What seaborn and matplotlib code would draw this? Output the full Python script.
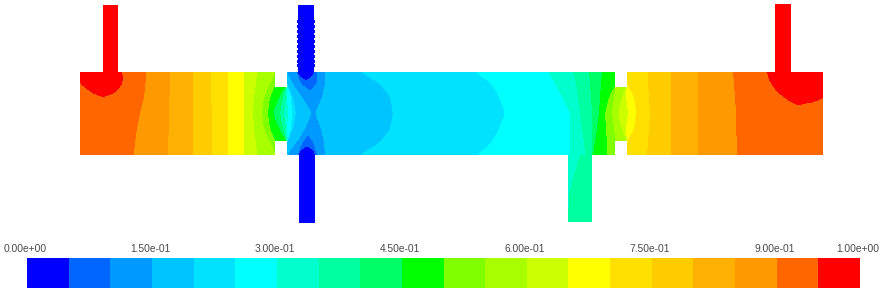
import numpy as np
import matplotlib
matplotlib.use("Agg")
import matplotlib.pyplot as plt
from matplotlib.colors import ListedColormap
from matplotlib.transforms import ScaledTranslation
import seaborn as sns

# ---------- data ----------
LEVEL_COLORS = ["#0000ff", "#0066ff", "#0099ff", "#00c4ff", "#00e2ff",
                "#00ffff", "#00ffcc", "#00ffa0", "#00ff66", "#00ff00",
                "#80ff00", "#a8ff00", "#ccff00", "#ffff00", "#ffe000",
                "#ffcc00", "#ffb000", "#ff9900", "#ff6600", "#ff0000"]
TICK_BINS = [0, 3, 6, 9, 12, 15, 18, 20]
TICK_LABELS = ["0.00e+00", "1.50e-01", "3.00e-01", "4.50e-01",
               "6.00e-01", "7.50e-01", "9.00e-01", "1.00e+00"]

# contour band edges along the duct (x) at these heights (y)
EDGE_Y = [72, 84, 97, 113, 129, 142, 155]
BASE_LEVEL = 18
EDGE_LEVELS = [17, 16, 15, 14, 13, 12, 11, 10, 9, 8, 7, 6, 5, 4, 3, 2, 3, 4, 5,
               6, 7, 8, 9, 10, 11, 12, 13, 14, 15, 16, 17, 18]
EDGES = [
    [146, 145.5, 144, 140, 137, 135, 134],
    [170, 170, 169.5, 169, 169, 168, 168],
    [193, 193, 193, 193, 193, 193, 193],
    [211, 211, 211, 212, 212, 212, 212],
    [228, 228, 228, 228, 228, 228, 228],
    [244, 244, 244, 244, 244, 244, 244],
    [257, 256, 254, 253, 254, 256, 257],
    [276, 270, 264, 262, 264, 270, 276],
    [280, 276, 270, 268, 270, 276, 280],
    [287, 287, 279, 273, 279, 287, 287],
    [287, 287, 283, 280, 283, 287, 287],
    [287, 287, 286, 284, 286, 287, 287],
    [287, 287, 287, 288, 287, 287, 287],
    [287, 287, 291, 292, 291, 287, 287],
    [287, 287, 293, 296, 293, 287, 287],
    [287, 293, 302, 312, 305, 297, 287],
    [325, 325, 322, 315, 321, 324, 325],
    [360, 380, 390, 393, 390, 380, 360],
    [475, 492, 499, 505, 499, 492, 477],
    [548, 555, 562, 570, 570, 570, 570],
    [573, 576, 578, 580, 582, 584, 585],
    [589, 590, 591, 592, 592, 592, 592],
    [602, 601, 600, 599, 597, 595, 593],
    [616, 616, 609, 605, 606, 607, 607],
    [616, 616, 614, 612, 614, 616, 616],
    [627, 627, 622, 618, 622, 627, 627],
    [627, 627, 626, 628, 626, 627, 627],
    [627, 627, 634, 636, 634, 627, 627],
    [648, 648, 649, 650, 649, 648, 647],
    [671, 671, 671, 671, 671, 671, 671],
    [698, 698, 698, 698, 698, 698, 698],
    [733, 734, 735, 736, 736, 737, 737],
]

# regions painted over the duct: level, heights, left edge, right edge
LEFT_RED = (19, [72, 78, 84, 90, 94, 97],
            [80, 80, 80.5, 88, 94, 103], [122, 123, 122, 118, 113, 103])
RIGHT_RED = (19, [72, 80, 88, 96, 98, 102, 105],
             [767, 769, 774, 782, 785, 790, 798],
             [823, 823, 823, 823, 823, 815, 798])
TOP_HALO = (1, [72, 82, 87, 90], [297, 300, 305, 310], [317, 317, 314, 310])
BOT_HALO = (1, [135, 142, 148, 155], [308, 303, 300, 298], [308, 313, 315, 317])
TOP_TIP = (0, [72, 75, 78, 80], [298, 299, 302, 306], [314, 313, 310, 306])
BOT_TIP = (0, [147, 149, 152, 155], [307, 302, 300, 299], [307, 312, 314, 315])
OVERLAYS = [LEFT_RED, RIGHT_RED, TOP_HALO, BOT_HALO, TOP_TIP, BOT_TIP]

# duct outline and its side pipes
DUCT_X = (80, 823)
DUCT_Y = (72.5, 155)
NOTCHES_X = [(275, 287), (615, 627)]
THROAT_Y = (87, 141)
# pipe: x0, x1, y0, y1, level
PIPES = [(103, 118, 5.5, 72.5, 19), (775, 791, 4, 72.5, 19),
         (298, 314, 5, 72.5, 0), (299, 315, 155, 223, 0)]
# small bumps on the wall of the upper blue pipe
BUMP_Y = [20, 25, 30, 35, 40, 45, 50, 55, 60, 64]
BUMP_X = (297, 315)
OUTLET_X = (568, 592)
OUTLET_Y = (155, 222)
OUTLET_EDGE_Y = [155, 175, 195, 222]
OUTLET_EDGE_X = [580, 574, 569, 568]
OUTLET_LEVELS = (6, 7)

# ---------- build the level grid ----------
W, H = 882, 235
xc = np.arange(W) + 0.5
yc = np.arange(H) + 0.5
X, Y = np.meshgrid(xc, yc)
grid = np.full((H, W), np.nan)


def edge_curve(ys, xs, k=7):
    """Edge position per row, rounded so bands have curved outlines."""
    line = np.interp(yc, ys, xs)
    pad = np.pad(line, k // 2, mode="edge")
    return np.convolve(pad, np.ones(k) / k, mode="valid")[:, None]


inside = (X >= DUCT_X[0]) & (X < DUCT_X[1]) & (Y >= DUCT_Y[0]) & (Y < DUCT_Y[1])
for a, b in NOTCHES_X:
    inside &= ~((X >= a) & (X < b) & ((Y < THROAT_Y[0]) | (Y >= THROAT_Y[1])))
field = np.full((H, W), float(BASE_LEVEL))
for lev, ed in zip(EDGE_LEVELS, EDGES):
    field[X >= edge_curve(EDGE_Y, ed, 9)] = lev
for lev, ys, lefts, rights in OVERLAYS:
    lo = edge_curve(ys, lefts, 3)
    hi = edge_curve(ys, rights, 3)
    m = (Y >= ys[0]) & (Y <= ys[-1]) & (X >= lo) & (X < hi)
    field[m] = lev
grid[inside] = field[inside]

for x0, x1, y0, y1, lev in PIPES:
    grid[(X >= x0) & (X < x1) & (Y >= y0) & (Y < y1)] = lev
for by in BUMP_Y:
    grid[(X >= BUMP_X[0]) & (X < BUMP_X[1]) & (Y >= by) & (Y < by + 3)] = 0
out_edge = edge_curve(OUTLET_EDGE_Y, OUTLET_EDGE_X, 3)
m = (X >= OUTLET_X[0]) & (X < OUTLET_X[1]) & (Y >= OUTLET_Y[0]) & (Y < OUTLET_Y[1])
grid[m] = np.where(X[m] < out_edge.repeat(W, 1)[m], OUTLET_LEVELS[0], OUTLET_LEVELS[1])

# ---------- draw ----------
sns.set_theme(style="white")
plt.rcParams["font.family"] = ["Liberation Sans", "DejaVu Sans"]
cmap = ListedColormap(LEVEL_COLORS)
fig = plt.figure(figsize=(8.82, 2.92), dpi=100, facecolor="white")

ax = fig.add_axes([0, (292 - H) / 292, 1, H / 292])
sns.heatmap(grid, ax=ax, mask=np.isnan(grid), cmap=cmap, vmin=-0.5, vmax=19.5,
            cbar=False, xticklabels=False, yticklabels=False)
ax.set_axis_off()

cax = fig.add_axes([27 / 882, 4 / 292, 833 / 882, 30 / 292])
sns.heatmap(np.arange(20.0).reshape(1, 20), ax=cax, cmap=cmap, vmin=-0.5, vmax=19.5,
            cbar=False, xticklabels=False, yticklabels=False)
cax.xaxis.tick_top()
cax.set_xticks(TICK_BINS)
cax.set_xticklabels(TICK_LABELS, rotation=0, fontsize=7.4, color="#4a4a4a")
cax.tick_params(axis="x", length=0, pad=3, labeltop=True, labelbottom=False)
cax.set_yticks([])
offset = ScaledTranslation(-2 / 100, 0, fig.dpi_scale_trans)
for lab in cax.get_xticklabels():
    lab.set_transform(lab.get_transform() + offset)
for s in cax.spines.values():
    s.set_visible(False)

fig.savefig("out.png", dpi=100, facecolor="white")
